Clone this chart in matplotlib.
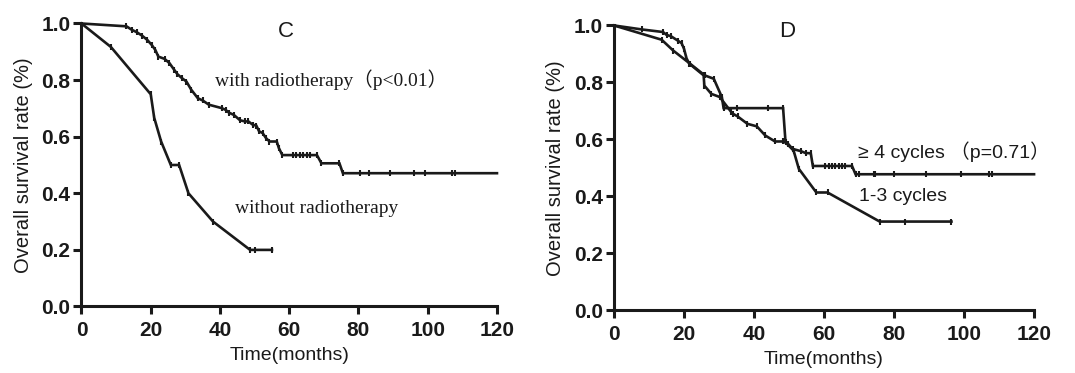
import matplotlib
matplotlib.use("Agg")
import matplotlib.pyplot as plt

# ---- Panel C data ----
t_with = [0, 13, 14.5, 16, 17.5, 19, 20.3, 21.3, 22.2, 24, 25.4, 26.8, 27.7, 29, 30.3,
          31.7, 33.6, 35, 36.8, 40.5, 41.6, 42.6, 44, 45.8, 47.2, 48.2, 49.5, 50.5,
          51.3, 52.3, 53.3, 54.3, 56.4, 57, 58, 61, 62, 63, 64, 65, 66, 68, 69.3,
          74.5, 75.5, 80.3, 83, 89, 96, 99.2, 107, 108, 120]
s_with = [1.0, 0.99, 0.978, 0.969, 0.957, 0.942, 0.924, 0.907, 0.883, 0.875, 0.86,
          0.836, 0.821, 0.807, 0.795, 0.766, 0.736, 0.728, 0.713, 0.701, 0.695, 0.685,
          0.677, 0.658, 0.654, 0.654, 0.642, 0.639, 0.619, 0.613, 0.595, 0.583, 0.583,
          0.56, 0.535, 0.535, 0.535, 0.535, 0.535, 0.535, 0.535, 0.535, 0.506, 0.506,
          0.471, 0.471, 0.471, 0.471, 0.471, 0.471, 0.471, 0.471, 0.471]

t_without = [0, 8.5, 20, 21, 23, 25.8, 28.2, 30.9, 38, 48.7, 50, 55]
s_without = [1.0, 0.917, 0.75, 0.667, 0.583, 0.5, 0.5, 0.4, 0.3, 0.2, 0.2, 0.2]

# ---- Panel D data ----
t_ge4 = [0, 8, 14, 15, 16.3, 18.2, 19.3, 20, 20.7, 21.5, 25.6, 25.8, 27.8, 30.2, 33.5,
         34, 35.3, 38.1, 40.8, 43.2, 46, 48.3, 49.7, 51, 53.4, 54.8, 56.2, 56.8, 60.4,
         61.3, 62.3, 63.2, 64.2, 65.1, 66.1, 68, 69, 69.9, 74.2, 74.7, 80.1, 89.1,
         99.1, 107, 108, 120]
s_ge4 = [1.0, 0.986, 0.977, 0.967, 0.962, 0.947, 0.938, 0.918, 0.885, 0.866, 0.825,
         0.789, 0.76, 0.749, 0.696, 0.69, 0.681, 0.655, 0.646, 0.614, 0.593, 0.593,
         0.585, 0.567, 0.559, 0.552, 0.552, 0.507, 0.507, 0.507, 0.507, 0.507, 0.507,
         0.507, 0.507, 0.507, 0.478, 0.478, 0.478, 0.478, 0.478, 0.478, 0.478, 0.478,
         0.478, 0.478]

t_13 = [0, 13.6, 16.9, 21.7, 25.9, 28.5, 30.8, 31.3, 35.1, 44, 48.3, 49, 51.3, 52.8,
        57.8, 61, 75.9, 83, 96.4]
s_13 = [1.0, 0.95, 0.912, 0.866, 0.825, 0.813, 0.749, 0.71, 0.71, 0.71, 0.71, 0.59,
        0.561, 0.497, 0.414, 0.414, 0.312, 0.312, 0.312]

x_ticks = [0, 20, 40, 60, 80, 100, 120]
y_ticks = [0.0, 0.2, 0.4, 0.6, 0.8, 1.0]
y_ticklabels = ["0.0", "0.2", "0.4", "0.6", "0.8", "1.0"]

SANS = ["Liberation Sans", "DejaVu Sans"]
INK = "#1a1a1a"
fig = plt.figure(figsize=(10.75, 3.73), dpi=100)
fig.patch.set_facecolor("white")

axC = fig.add_axes([0.0758, 0.1783, 0.3865, 0.7587])
axD = fig.add_axes([0.5712, 0.1676, 0.3907, 0.7641])

def style(ax):
    ax.set_xlim(0, 120)
    ax.set_ylim(0, 1.0)
    for s in ["top", "right"]:
        ax.spines[s].set_visible(False)
    for s in ["left", "bottom"]:
        ax.spines[s].set_linewidth(2.2)
        ax.spines[s].set_color(INK)
        ax.spines[s].set_capstyle("projecting")
    ax.set_xticks(x_ticks)
    ax.set_xticklabels([str(v) for v in x_ticks])
    ax.set_yticks(y_ticks)
    ax.set_yticklabels(y_ticklabels)
    ax.tick_params(direction="out", length=6, width=2.2, color=INK)
    ax.tick_params(axis="x", pad=4.5)
    ax.tick_params(axis="y", pad=2)
    for lab in ax.get_xticklabels() + ax.get_yticklabels():
        lab.set_fontfamily(SANS)
        lab.set_fontweight("bold")
        lab.set_fontsize(15)
        lab.set_color(INK)
    ax.set_xlabel("Time(months)", fontsize=14, family=SANS, color=INK, labelpad=5)
    ax.set_ylabel("Overall survival rate (%)", fontsize=14.5, family=SANS,
                  color=INK, labelpad=6)

def curve(ax, t, s, last_marker=True):
    ax.plot(t, s, color=INK, lw=1.9, clip_on=False, solid_joinstyle="miter", zorder=3)
    mt = t[1:] if last_marker else t[1:-1]
    ms = s[1:] if last_marker else s[1:-1]
    ax.plot(mt, ms, ls="none", marker="|", ms=4.2, mew=1.5, color=INK,
            clip_on=False, zorder=4)

style(axC)
style(axD)

curve(axC, t_with, s_with, last_marker=False)
curve(axC, t_without, s_without)
curve(axD, t_ge4, s_ge4, last_marker=False)
curve(axD, t_13, s_13)

axC.text(59, 0.97, "C", fontsize=16, family=SANS, ha="center", va="center", color=INK)
axD.text(49.5, 0.98, "D", fontsize=16, family=SANS, ha="center", va="center", color=INK)

SERIF = ["Liberation Serif", "Noto Sans CJK SC", "DejaVu Serif"]
axC.text(38.6, 0.80, "with radiotherapy（p<0.01）", fontsize=14, family=SERIF,
         ha="left", va="center", color=INK)
axC.text(44.4, 0.345, "without radiotherapy", fontsize=14, family=SERIF,
         ha="left", va="center", color=INK)

SANSCJK = ["Liberation Sans", "Noto Sans CJK SC", "DejaVu Sans"]
axD.text(69.7, 0.557, "≥ 4 cycles （p=0.71）", fontsize=14, family=SANSCJK,
         ha="left", va="center", color=INK)
axD.text(70.0, 0.40, "1-3 cycles", fontsize=14, family=SANSCJK,
         ha="left", va="center", color=INK)

fig.savefig("out.png", dpi=100, facecolor="white")
